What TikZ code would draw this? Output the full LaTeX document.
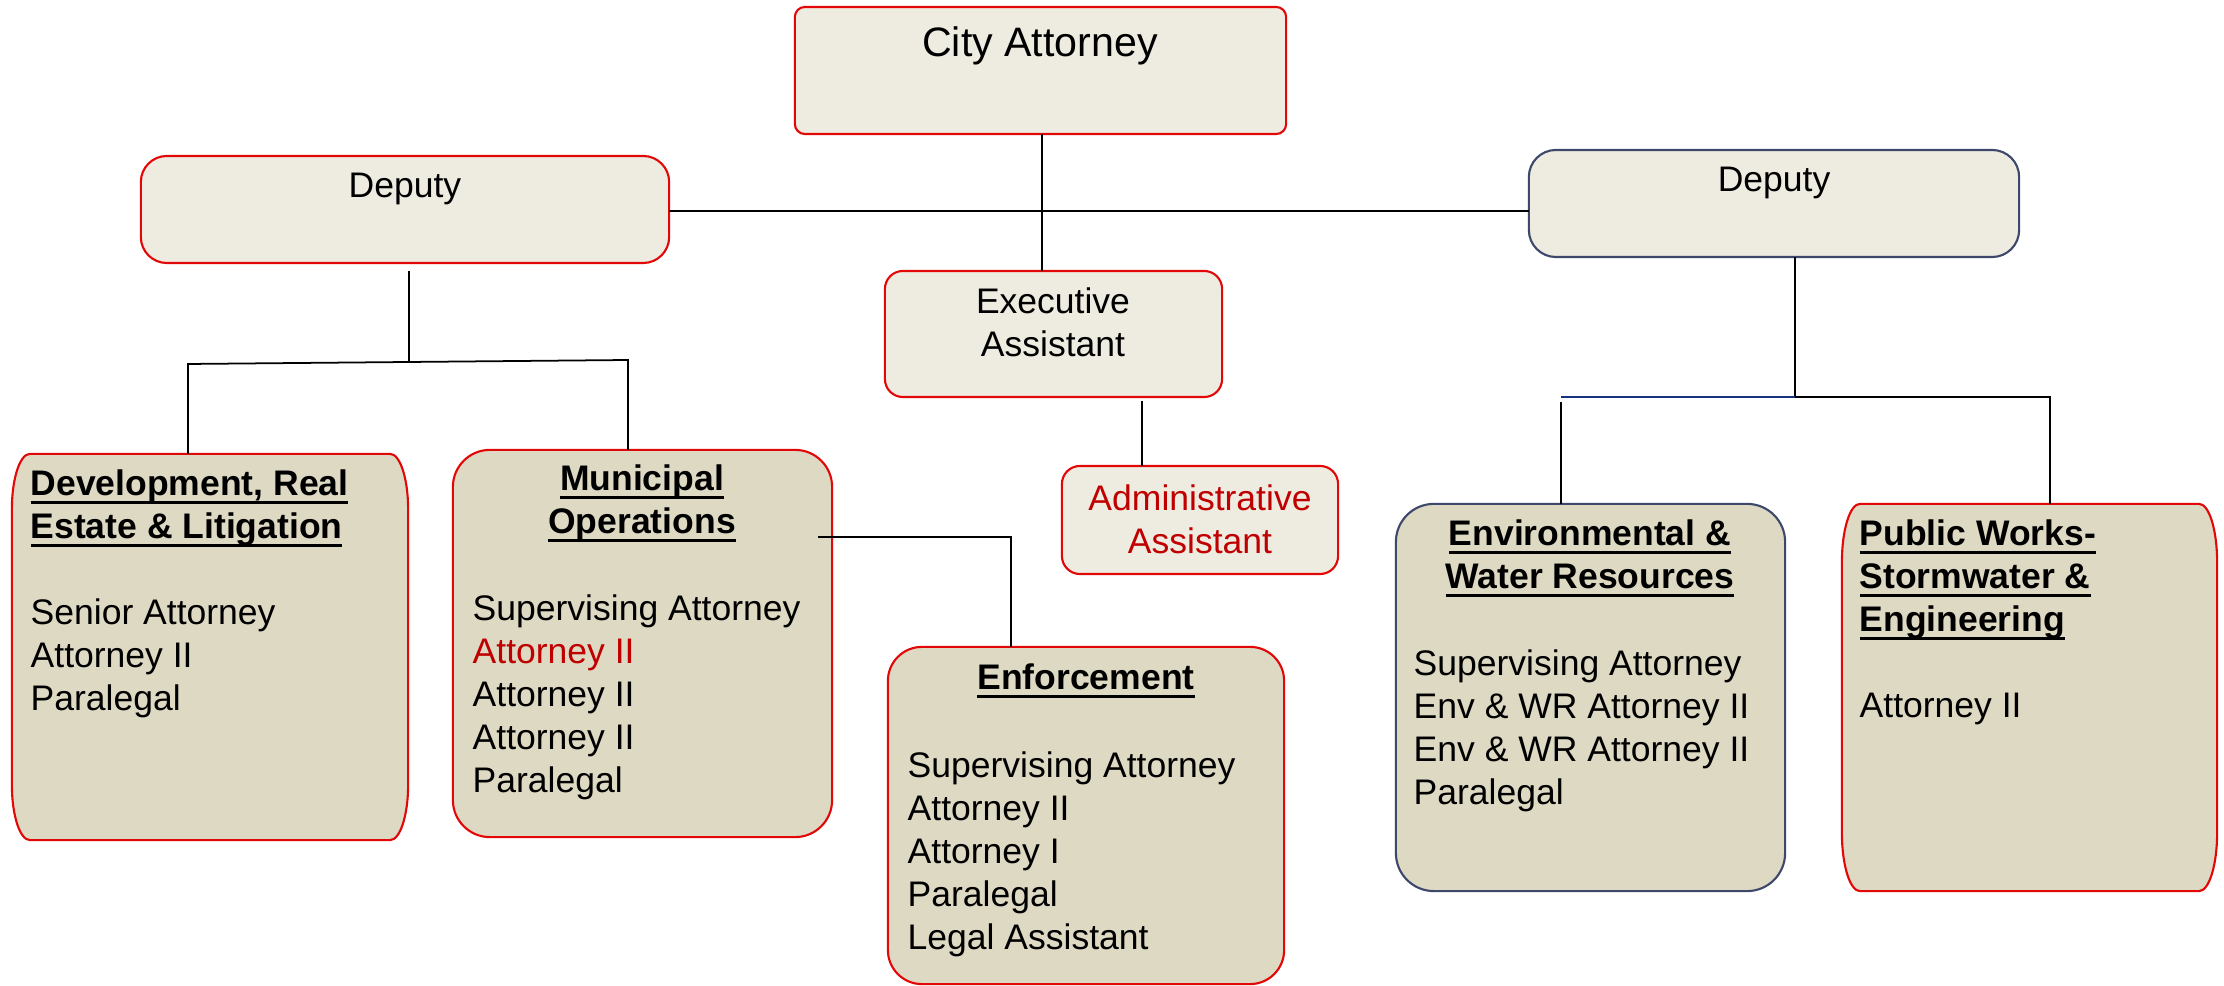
\documentclass[tikz,border=0pt]{standalone}
\usepackage{fontspec}
\setmainfont{Liberation Sans}
\usetikzlibrary{backgrounds,calc}

% heavy underline for the division headings
\newcommand{\hdline}[1]{\leavevmode\setbox0\hbox{#1}\rlap{\rule[-2.4pt]{\wd0}{0.9pt}}\box0}

% first-line strut, so a text node's top sits 30px above its first baseline
\newcommand{\fstrut}{\rule{0pt}{0.3cm}}

% rounded frame behind a box node: node, x radius, y radius, fill, border
\newcommand{\orgframe}[5]{%
  \path[fill=#4, draw=#5, line width=0.6pt]
    ([yshift=#3]#1.south west) -- ([yshift=-#3]#1.north west)
    arc[start angle=180, end angle=90, x radius=#2, y radius=#3]
    -- ([xshift=-#2]#1.north east)
    arc[start angle=90, end angle=0, x radius=#2, y radius=#3]
    -- ([yshift=#3]#1.south east)
    arc[start angle=0, end angle=-90, x radius=#2, y radius=#3]
    -- ([xshift=#2]#1.south west)
    arc[start angle=270, end angle=180, x radius=#2, y radius=#3]
    -- cycle;}

\begin{document}
\begin{tikzpicture}[x=0.01cm, y=-0.01cm,
  orgbox/.style 2 args={minimum width=#1, minimum height=#2, inner sep=0, outer sep=0},
  orgtxt/.style={inner sep=0, font=\fontsize{10.1}{12.2}\selectfont},
  orglist/.style={orgtxt, align=left, anchor=north west},
  orghead/.style={inner sep=0, font=\fontsize{10.1}{12.2}\selectfont\bfseries, align=center, anchor=north},
  orglink/.style={line width=0.5pt, black}]
  % Define colors
  \definecolor{upfill}{RGB}{238,236,225}
  \definecolor{lowfill}{RGB}{221,217,195}
  \definecolor{redline}{RGB}{226,8,8}
  \definecolor{slate}{RGB}{62,72,106}
  \definecolor{navyline}{RGB}{24,50,128}
  \definecolor{redtext}{RGB}{192,0,0}

  \useasboundingbox (0,0) rectangle (2224,986);

  % Boxes
  \node[orgbox={4.91cm}{1.27cm}] (city) at (1040.5,70.5) {};
  \node[orgbox={5.28cm}{1.07cm}] (ldep) at (405,209.5) {};
  \node[orgbox={4.90cm}{1.07cm}] (rdep) at (1774,203.5) {};
  \node[orgbox={3.37cm}{1.26cm}] (exec) at (1053.5,334) {};
  \node[orgbox={2.76cm}{1.08cm}] (admin) at (1200,520) {};
  \node[orgbox={3.96cm}{3.86cm}] (dre) at (210,647) {};
  \node[orgbox={3.79cm}{3.87cm}] (muni) at (642.5,643.5) {};
  \node[orgbox={3.96cm}{3.37cm}] (enf) at (1086,815.5) {};
  \node[orgbox={3.89cm}{3.87cm}] (env) at (1590.5,697.5) {};
  \node[orgbox={3.75cm}{3.87cm}] (pw) at (2029.5,697.5) {};

  \begin{scope}[on background layer]
    \orgframe{city}{0.1cm}{0.1cm}{upfill}{redline}
    \orgframe{ldep}{0.26cm}{0.26cm}{upfill}{redline}
    \orgframe{rdep}{0.27cm}{0.27cm}{upfill}{slate}
    \orgframe{exec}{0.18cm}{0.18cm}{upfill}{redline}
    \orgframe{admin}{0.18cm}{0.18cm}{upfill}{redline}
    \orgframe{dre}{0.18cm}{0.55cm}{lowfill}{redline}
    \orgframe{muni}{0.37cm}{0.37cm}{lowfill}{redline}
    \orgframe{enf}{0.34cm}{0.34cm}{lowfill}{redline}
    \orgframe{env}{0.38cm}{0.38cm}{lowfill}{slate}
    \orgframe{pw}{0.18cm}{0.58cm}{lowfill}{redline}
  \end{scope}

  % Titles
  \node[orgtxt, font=\fontsize{11.7}{14}\selectfont, anchor=base] (city-t) at (1040,57) {City Attorney};
  \node[orgtxt, anchor=base] (ldep-t) at (405,198) {Deputy};
  \node[orgtxt, anchor=base] (rdep-t) at (1774,192) {Deputy};
  \node[orgtxt, align=center, anchor=north] (exec-t) at (1053,283) {\fstrut Executive\\Assistant};
  \node[orgtxt, align=center, anchor=north, text=redtext] (admin-t) at (1200,480) {\fstrut Administrative\\Assistant};

  % Divisions
  \node[orglist] (dre-t) at (30,465)
    {\fstrut\textbf{\hdline{Development, Real}}\\\textbf{\hdline{Estate \& Litigation}}\\[12.2pt]
     Senior Attorney\\Attorney II\\Paralegal};
  \node[orghead] (muni-h) at (642,460) {\fstrut\hdline{Municipal}\\\hdline{Operations}};
  \node[orglist] (muni-t) at (472,590)
    {\fstrut Supervising Attorney\\\textcolor{redtext}{Attorney II}\\Attorney II\\Attorney II\\Paralegal};
  \node[orghead, anchor=base] (enf-h) at (1086,690) {\hdline{Enforcement}};
  \node[orglist] (enf-t) at (907,747)
    {\fstrut Supervising Attorney\\Attorney II\\Attorney I\\Paralegal\\Legal Assistant};
  \node[orghead] (env-h) at (1590,515) {\fstrut\hdline{Environmental \&}\\\hdline{Water Resources}};
  \node[orglist] (env-t) at (1413,645)
    {\fstrut Supervising Attorney\\Env \& WR Attorney II\\Env \& WR Attorney II\\Paralegal};
  \node[orglist] (pw-t) at (1859,515)
    {\fstrut\textbf{\hdline{Public Works-}}\\\textbf{\hdline{Stormwater \&}}\\\textbf{\hdline{Engineering}}\\[12.2pt]
     Attorney II};

  % Connectors
  \coordinate (bar) at (1042,211);
  \draw[orglink] (city.south -| bar) -- (exec.north -| bar);
  \draw[orglink] (ldep.east |- bar) -- (rdep.west |- bar);

  \coordinate (lfork) at (409,362);
  \coordinate (lfork-l) at (188,364);
  \coordinate (lfork-r) at (628,360);
  \draw[orglink] ($(ldep.south -| lfork)+(0,8)$) -- (lfork);
  \draw[orglink] (dre.north -| lfork-l) -- (lfork-l) -- (lfork-r) -- (muni.north -| lfork-r);

  \coordinate (rfork) at (1795,397);
  \coordinate (rfork-l) at (1561,397);
  \coordinate (rfork-r) at (2050,397);
  \draw[orglink] (rdep.south -| rfork) -- (rfork);
  \draw[orglink, navyline] (rfork-l) -- (rfork);
  \draw[orglink] (rfork) -- (rfork-r) -- (pw.north -| rfork-r);
  \draw[orglink] ($(rfork-l)+(0,5)$) -- (env.north -| rfork-l);

  \coordinate (atap) at (1142,401);
  \draw[orglink] (atap) -- (admin.north -| atap);

  \coordinate (mtap) at (818,537);
  \draw[orglink] (mtap) -| ($(enf.north)+(-75,0)$);
\end{tikzpicture}
\end{document}
